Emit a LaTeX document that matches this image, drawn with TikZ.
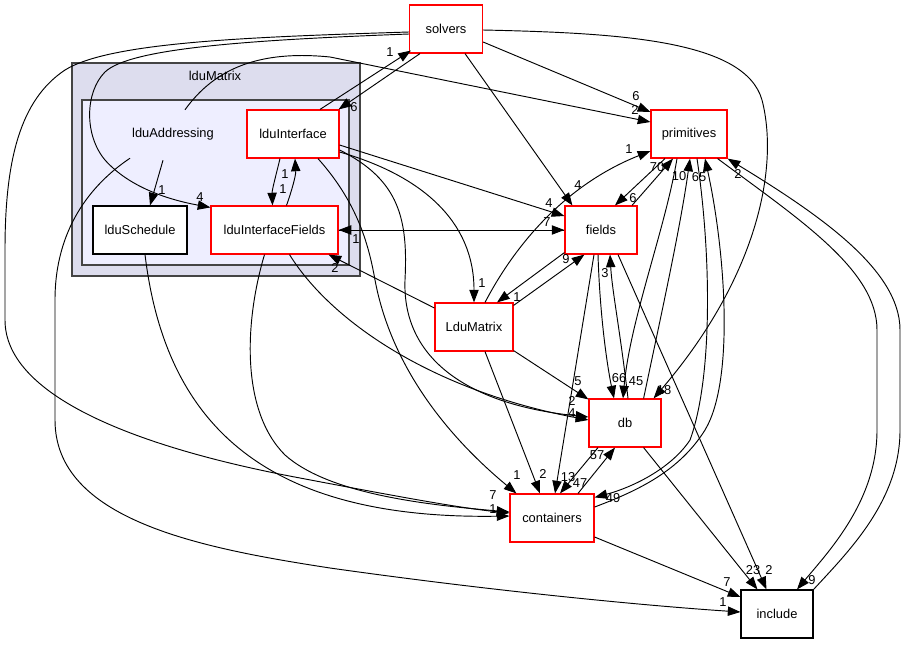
\documentclass[tikz,border=0pt]{standalone}
\usepackage{fontspec}
\setsansfont{Liberation Sans}
\usetikzlibrary{arrows.meta,calc}
\definecolor{dirred}{RGB}{255,0,0}
\definecolor{clusterfill}{RGB}{221,221,238}
\definecolor{subclusterfill}{RGB}{238,238,255}
\definecolor{clusterline}{RGB}{68,68,68}

\begin{document}
\begin{tikzpicture}[x=0.03cm, y=-0.03cm,
  dir/.style={draw=dirred, fill=white, line width=1pt, minimum height=1.44cm, inner sep=0pt, font=\fontsize{11}{13}\selectfont\sffamily},
  leaf/.style={dir, draw=black, line width=0.9pt},
  arr/.style={-{Triangle[length=0.38cm,width=0.28cm]}, line width=0.8pt},
  lbl/.style={font=\fontsize{11}{13}\selectfont\sffamily, inner sep=0pt}
]
  \useasboundingbox (0,0) rectangle (907,644);

  % clusters
  \draw[fill=clusterfill, draw=clusterline, line width=2pt] (72,63) rectangle (360,276);
  \node[lbl] (clusterlabel) at (215,76) {lduMatrix};
  \draw[fill=subclusterfill, draw=clusterline, line width=1.3pt] (82,100) rectangle (349,265);

  % directories
  \node[dir, minimum width=2.19cm] (solvers) at (446,29) {solvers};
  \node[dir, minimum width=2.28cm] (primitives) at (689,134) {primitives};
  \node[dir, minimum width=2.16cm] (fields) at (601,230) {fields};
  \node[dir, minimum width=2.34cm] (LduMatrix) at (474,327) {LduMatrix};
  \node[dir, minimum width=2.16cm] (db) at (625,423) {db};
  \node[dir, minimum width=2.52cm] (containers) at (552,518) {containers};
  \node[leaf, minimum width=2.16cm] (include) at (777,614) {include};
  \node[lbl, minimum width=3cm, minimum height=1.44cm] (lduAddressing) at (173,134) {lduAddressing};
  \node[dir, minimum width=2.76cm] (lduInterface) at (293,134) {lduInterface};
  \node[leaf, minimum width=2.82cm] (lduSchedule) at (140,230) {lduSchedule};
  \node[dir, minimum width=3.81cm] (lduInterfaceFields) at (274.5,230) {lduInterfaceFields};

  % lduAddressing
  \draw[arr] ($(lduAddressing.south)+(-10,2)$) -- ($(lduSchedule.north)+(10,0)$) node[lbl] (t1) at (162,190) {1};
  \draw[arr] ($(lduAddressing.north)+(12,0)$) .. controls (215,68) and (260,50) .. (330,57) -- ($(primitives.west)+(0,-12)$) node[lbl] (t2) at (635,110) {2};
  \draw[arr] ($(lduAddressing.south)+(-43,0)$) .. controls (90,185) and (55,230) .. (55,300) -- (55,420) .. controls (55,520) and (200,548) .. (330,568) .. controls (500,592) and (650,606) .. ($(include.west)+(0,-2)$) node[lbl] (t3) at (723,602) {1};

  % solvers
  \draw[arr] ($(solvers.west)+(0,3)$) .. controls (250,37) and (110,42) .. (65,70) .. controls (20,100) and (5,160) .. (5,250) -- (5,320) .. controls (5,400) and (150,450) .. (300,478) .. controls (400,497) and (460,508) .. ($(containers.west)+(0,-5)$) node[lbl] (t4) at (493,495) {7};
  \draw[arr] ($(solvers.west)+(0,5)$) .. controls (250,40) and (130,48) .. (105,72) .. controls (85,92) and (84,135) .. (105,160) .. controls (130,188) and (170,200) .. ($(lduInterfaceFields.north west)+(0,2)$) node[lbl] (t5) at (200,197) {4};
  \draw[arr] ($(solvers.east)+(0,13)$) -- ($(primitives.west)+(0,-22)$) node[lbl] (t6) at (636,96) {6};
  \draw[arr] ($(solvers.south)+(19,0)$) -- ($(fields.north west)+(8,0)$) node[lbl] (t7) at (578,185) {4};
  \draw[arr] ($(solvers.south)+(-26,0)$) -- ($(lduInterface.north east)+(-1,0)$) node[lbl] (t8) at (354,107) {6};
  \draw[arr] ($(solvers.east)+(0,1)$) .. controls (620,33) and (745,40) .. (762,100) .. controls (780,170) and (755,280) .. ($(db.north east)+(-8,0)$) node[lbl] (t9) at (664,390) {18};

  % lduInterface
  \draw[arr] ($(lduInterface.north)+(27,0)$) -- ($(solvers.south west)+(2,-3)$) node[lbl] (t10) at (390,52) {1};
  \draw[arr] ($(lduInterface.south)+(-13,0)$) .. controls (276,175) and (272,190) .. ($(lduInterfaceFields.north)+(-2,0)$) node[lbl] (t11) at (283,189) {1};
  \draw[arr] ($(lduInterfaceFields.north)+(12,0)$) .. controls (292,190) and (296,175) .. ($(lduInterface.south)+(2,0)$) node[lbl] (t12) at (285,174) {1};
  \draw[arr] ($(lduInterface.east)+(0,11)$) -- ($(fields.west)+(0,-14)$) node[lbl] (t13) at (549,203) {4};
  \draw[arr] ($(lduInterface.east)+(0,18)$) .. controls (420,175) and (474,220) .. (LduMatrix.north) node[lbl] (t14) at (482,283) {1};
  \draw[arr] ($(lduInterface.east)+(0,16)$) .. controls (400,180) and (408,220) .. (405,280) .. controls (402,360) and (470,405) .. ($(db.west)+(0,-6)$) node[lbl] (t15) at (572,401) {2};
  \draw[arr] ($(lduInterface.south)+(25,0)$) .. controls (355,200) and (368,240) .. (375,280) .. controls (390,360) and (440,430) .. ($(containers.north west)+(7,0)$) node[lbl] (t16) at (517,475) {1};

  % lduInterfaceFields
  \draw[arr] (lduInterfaceFields.east) -- (fields.west) node[lbl] (t17) at (547,222) {7};
  \draw[arr] (fields.west) -- (lduInterfaceFields.east) node[lbl] (t18) at (356,239) {1};
  \draw[arr] ($(lduInterfaceFields.south)+(-10,0)$) .. controls (245,320) and (240,410) .. (285,455) .. controls (330,495) and (430,505) .. ($(containers.west)+(0,-6)$);
  \draw[arr] ($(lduInterfaceFields.south)+(15,0)$) .. controls (330,320) and (430,390) .. ($(db.west)+(0,-3)$) node[lbl] (t20) at (572,413) {4};

  % lduSchedule
  \draw[arr] ($(lduSchedule.south)+(5,0)$) .. controls (165,420) and (260,520) .. ($(containers.west)+(0,-2)$) node[lbl] (t21) at (493,509) {1};

  % LduMatrix
  \draw[arr] ($(LduMatrix.west)+(0,-19)$) -- ($(lduInterfaceFields.south east)+(-10,0)$) node[lbl] (t22) at (335,268) {2};
  \draw[arr] ($(LduMatrix.north)+(11,0)$) .. controls (515,245) and (565,185) .. ($(primitives.west)+(0,17)$) node[lbl] (t23) at (629,149) {1};
  \draw[arr] ($(LduMatrix.north east)+(0,3)$) -- ($(fields.south west)+(20,0)$) node[lbl] (t24) at (566,259) {9};
  \draw[arr] ($(fields.south west)+(0,-2)$) -- ($(LduMatrix.north)+(23,0)$) node[lbl] (t25) at (517,297) {1};
  \draw[arr] ($(LduMatrix.south east)+(0,-1)$) -- ($(db.north west)+(0,1)$) node[lbl] (t26) at (578,381) {5};
  \draw[arr] ($(LduMatrix.south)+(11,0)$) -- ($(containers.north)+(-12,0)$) node[lbl] (t27) at (543,474) {2};

  % fields
  \draw[arr] ($(fields.north)+(31,0)$) -- ($(primitives.south)+(-16,0)$) node[lbl] (t28) at (657,167) {70};
  \draw[arr] ($(fields.south)+(-3,0)$) .. controls (600,320) and (608,370) .. ($(db.north)+(-11,0)$) node[lbl] (t29) at (619,378) {66};
  \draw[arr] ($(fields.south)+(-7,0)$) -- ($(containers.north)+(3,0)$) node[lbl] (t30) at (568,477) {13};
  \draw[arr] ($(fields.south)+(17,0)$) -- ($(include.north west)+(26,0)$) node[lbl] (t31) at (769,570) {2};

  % primitives
  \draw[arr] ($(primitives.south)+(-24,0)$) -- ($(fields.north)+(14,0)$) node[lbl] (t32) at (633,198) {6};
  \draw[arr] ($(primitives.south)+(-12,0)$) .. controls (665,230) and (630,320) .. ($(db.north)+(-2,0)$) node[lbl] (t33) at (636,381) {45};
  \draw[arr] ($(primitives.south)+(8,0)$) .. controls (712,260) and (712,380) .. (690,440) .. controls (670,470) and (630,488) .. ($(containers.north east)+(0,4)$) node[lbl] (t34) at (613,498) {49};
  \draw[arr] ($(primitives.south east)+(-10,0)$) .. controls (800,220) and (877,270) .. (877,330) -- (877,430) .. controls (877,500) and (830,550) .. ($(include.north)+(20,0)$) node[lbl] (t35) at (812,580) {9};

  % db
  \draw[arr] ($(db.north)+(3,0)$) .. controls (620,330) and (612,290) .. ($(fields.south)+(9,0)$) node[lbl] (t36) at (605,273) {3};
  \draw[arr] ($(db.north east)+(-18,0)$) .. controls (660,320) and (680,230) .. ($(primitives.south)+(1,0)$) node[lbl] (t37) at (679,176) {10};
  \draw[arr] ($(db.south)+(-27,0)$) -- ($(containers.north)+(8,0)$) node[lbl] (t38) at (580,483) {47};
  \draw[arr] ($(db.south east)+(-18,0)$) -- ($(include.north west)+(17,0)$) node[lbl] (t39) at (753,570) {23};

  % containers
  \draw[arr] ($(containers.north)+(26,0)$) -- ($(db.south)+(-10,0)$) node[lbl] (t40) at (597,455) {57};
  \draw[arr] ($(containers.east)+(0,-11)$) .. controls (640,490) and (680,470) .. (705,430) .. controls (735,380) and (725,250) .. ($(primitives.south)+(16,0)$) node[lbl] (t41) at (699,177) {65};
  \draw[arr] ($(containers.east)+(0,19)$) -- ($(include.west)+(0,-17)$) node[lbl] (t42) at (727,582) {7};

  % include
  \draw[arr] (include.north east) .. controls (850,550) and (900,500) .. (900,430) -- (900,330) .. controls (900,270) and (820,215) .. (primitives.south east) node[lbl] (t43) at (738,174) {2};
\end{tikzpicture}
\end{document}
